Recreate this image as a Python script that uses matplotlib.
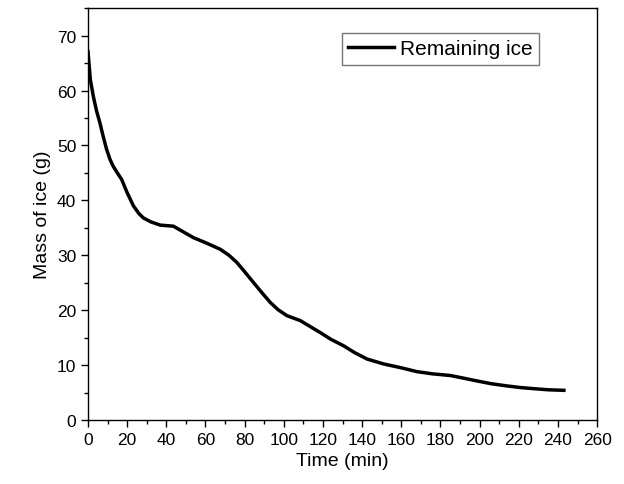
import matplotlib
matplotlib.use("Agg")
import matplotlib.pyplot as plt
from matplotlib.ticker import MultipleLocator

plt.rcParams['font.family'] = ['Liberation Sans', 'DejaVu Sans']

# data
time_min = [0, 1.2, 2.7, 4.3, 6.1, 7.8, 9.5, 11.2, 12.9, 15, 17.2, 20, 23.2,
            26, 28.3, 32, 36.8, 40, 43.6, 48, 53.9, 60, 67.5, 72, 76, 80,
            84.6, 89, 93.1, 97, 101.6, 108.4, 118.7, 124, 130.6, 136, 142.5,
            151, 160, 168, 176, 185, 192, 198.8, 206, 214, 221, 227.8, 235, 243]
mass_g = [67.1, 62.0, 59.0, 56.4, 54.1, 51.6, 49.3, 47.5, 46.2, 45.0, 43.8,
          41.4, 39.0, 37.6, 36.8, 36.1, 35.5, 35.4, 35.3, 34.4, 33.2, 32.3,
          31.1, 30.0, 28.7, 27.0, 25.0, 23.1, 21.4, 20.1, 19.0, 18.1, 15.9,
          14.7, 13.5, 12.3, 11.1, 10.2, 9.5, 8.8, 8.4, 8.1, 7.6, 7.1, 6.6,
          6.2, 5.9, 5.7, 5.5, 5.4]

fig = plt.figure(figsize=(6.24, 4.85), dpi=100)
ax = fig.add_axes([0.141, 0.132, 0.816, 0.849])

ax.plot(time_min, mass_g, color='black', linewidth=2.5, label='Remaining ice')

ax.set_xlim(0, 260)
ax.set_ylim(0, 75)
ax.xaxis.set_major_locator(MultipleLocator(20))
ax.xaxis.set_minor_locator(MultipleLocator(10))
ax.yaxis.set_major_locator(MultipleLocator(10))
ax.yaxis.set_minor_locator(MultipleLocator(5))
ax.tick_params(which='major', direction='out', length=5, width=1, labelsize=12.5)
ax.tick_params(which='minor', direction='out', length=3, width=1)
for s in ax.spines.values():
    s.set_linewidth(1)

ax.set_xlabel('Time (min)', fontsize=14)
ax.set_ylabel('Mass of ice (g)', fontsize=14)

leg = ax.legend(loc='upper left', bbox_to_anchor=(0.478, 0.965), fontsize=15,
                frameon=True, fancybox=False, handlelength=2.2,
                borderpad=0.3, handletextpad=0.3)
leg.get_frame().set_edgecolor('#555555')
leg.get_frame().set_linewidth(1)

fig.savefig('out.png', dpi=100)
